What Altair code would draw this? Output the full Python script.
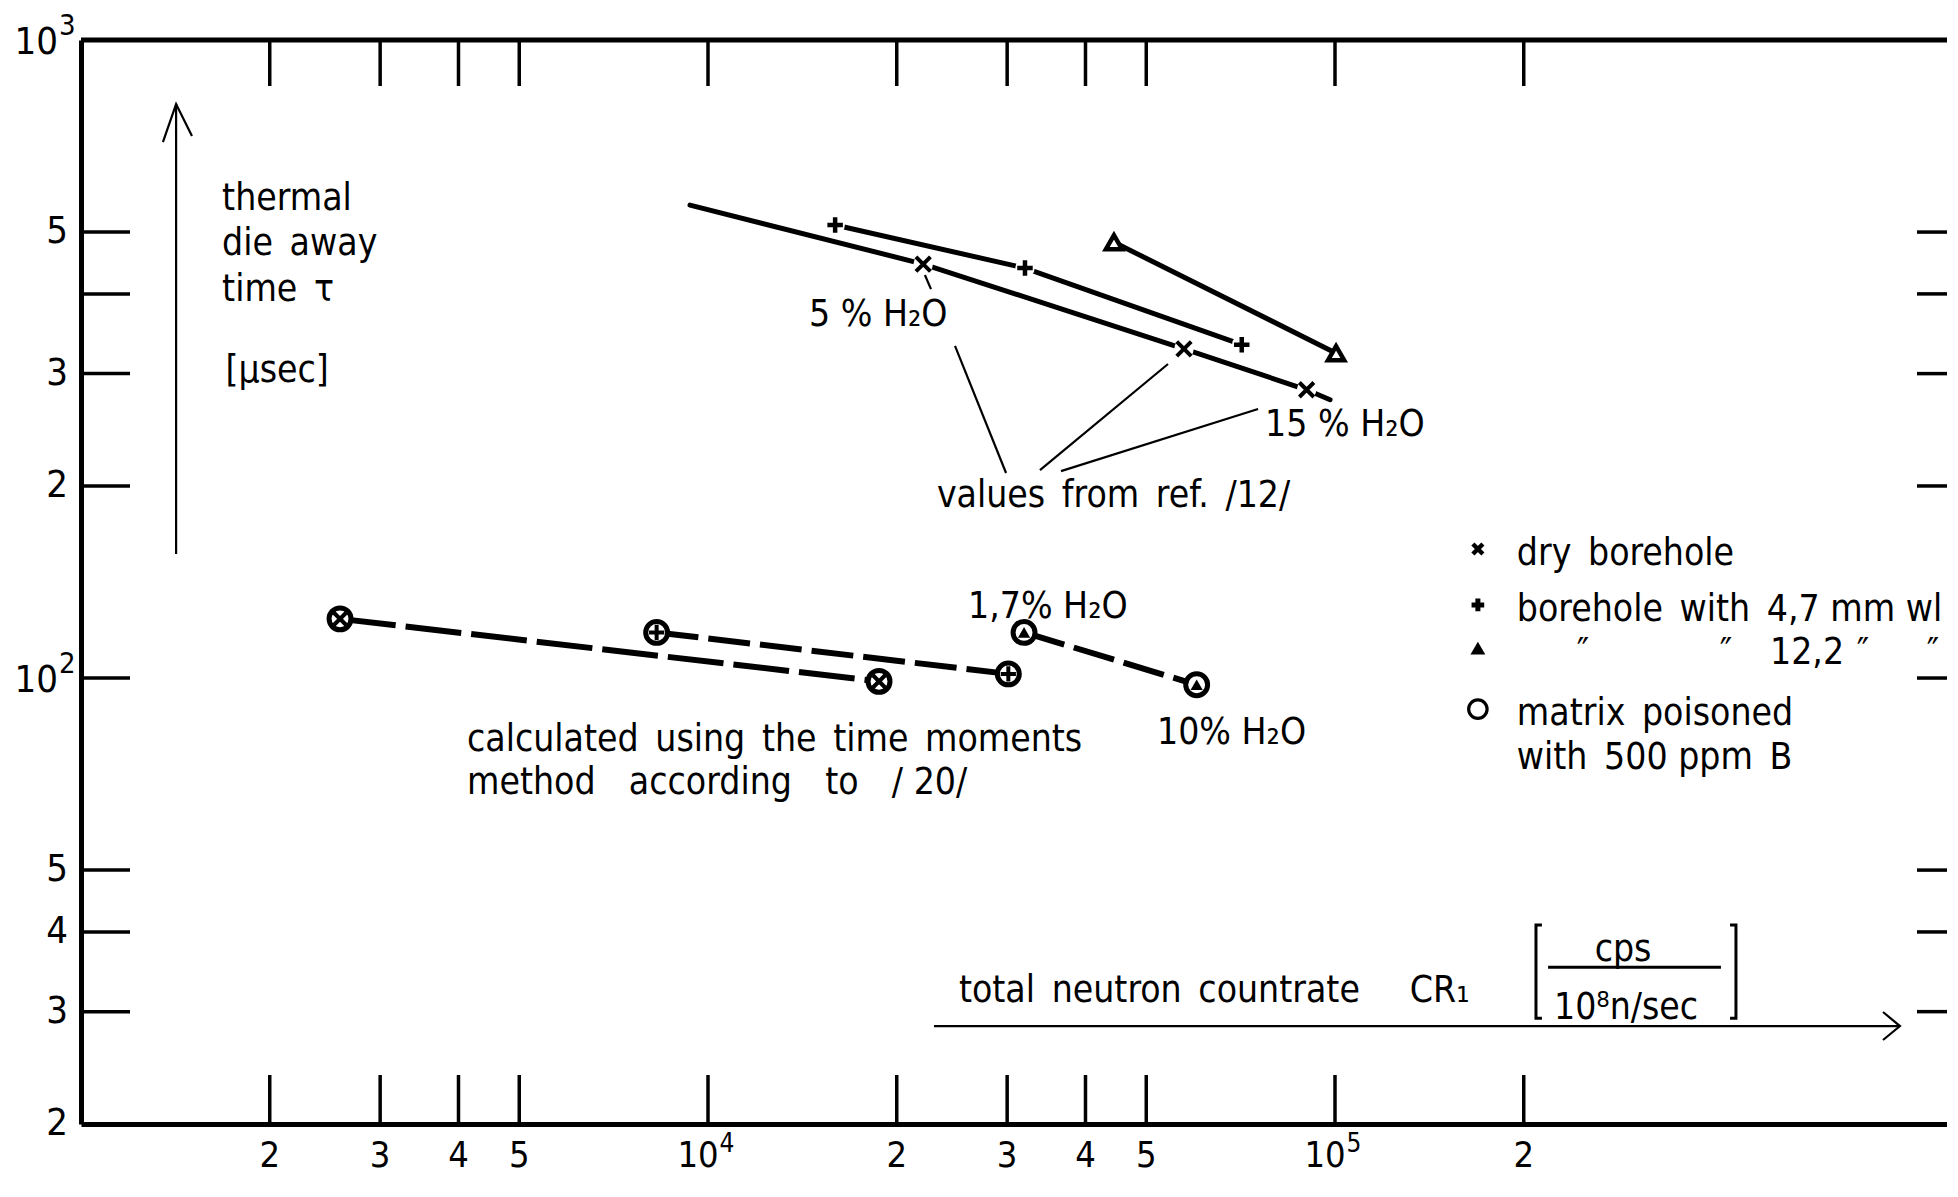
import altair as alt
import pandas as pd

FONT = "DejaVu Sans Condensed"
W, H = 1866, 1084
XMIN, XMAX = 1e3, 10 ** (3 + W / 627)
YMIN, YMAX = 20, 1000
EN = "\u2002"
EM = "\u2003"

# ---------------- axis ticks / labels ----------------
X_TICKS = [2e3, 3e3, 4e3, 5e3, 1e4, 2e4, 3e4, 4e4, 5e4, 1e5, 2e5]
X_LABELS = ["2", "3", "4", "5", "", "2", "3", "4", "5", "", "2"]
X_DECADES = [1e4, 1e5]
X_DEC_EXP = ["4", "5"]
Y_TICKS = [20, 30, 40, 50, 200, 300, 500]
Y_LABELS = ["2", "3", "4", "5", "2", "3", "5"]
Y_DECADES = [100, 1000]
Y_DEC_EXP = ["2", "3"]
Y_INNER = [30, 40, 50, 100, 200, 300, 400, 500]

# ---------------- data series (count rate, die-away time) ----------------
dry_x = [9360, 22040, 57430, 90100, 98200]
dry_y = [551, 445.5, 328, 283, 273]
dry_mark = [0, 1, 1, 1, 0]
wl47_x = [15950, 32030, 71000]
wl47_y = [513, 439, 333]
wl122_x = [44410, 100400]
wl122_y = [482, 323]
pdry_x = [2589, 18740]
pdry_y = [123.8, 98.8]
p47_x = [8281, 30130]
p47_y = [117.9, 101.5]
p122_x = [31920, 60170]
p122_y = [117.9, 97.6]

# ---------------- annotations ----------------
ann_text = ["5 % H₂O", "15 % H₂O", f"values{EN}from{EN}ref.{EN}/12/", "1,7% H₂O", "10% H₂O",
            f"calculated{EN}using{EN}the{EN}time{EN}moments", f"method{EM}according{EM}to{EM}/ 20/",
            "thermal", f"die{EN}away", f"time{EN}τ", "[μsec]",
            f"total{EN}neutron{EN}countrate{EM}{EN}CR₁"]
ann_x = [14490, 77340, 23180, 25980, 52010, 4127, 4127, 1679, 1679, 1679, 1700, 25130]
ann_y = [377.5, 253.7, 196.4, 131.5, 83.5, 81.4, 69.7, 573.6, 487.6, 413, 308.4, 32.9]

frac_text = ["cps", "10⁸n/sec"]
frac_x = [288000, 291200]
frac_y = [38.1, 30.9]

# leader lines and arrows: (path id -> xs, ys)
thin_paths = {
    "L1": ([24770, 29880], [331.5, 209.6]),
    "L2": ([54160, 33840], [310.6, 211.8]),
    "L3": ([75390, 36560], [264, 211]),
    "L4": ([22180, 22680], [428.2, 407]),
    "ay": ([1418, 1418], [156.4, 793.6]),
    "ayh": ([1351, 1418, 1503], [692, 793.6, 707]),
    "ax": ([22930, 796300], [28.48, 28.48]),
    "axh": ([748200, 796300, 748200], [29.96, 28.48, 27.08]),
}
thick_paths = {
    "bl": ([213800, 209200, 209200, 213800], [41.0, 41.0, 29.3, 29.3]),
    "br": ([426600, 436000, 436000, 426600], [41.0, 41.0, 29.3, 29.3]),
    "fb": ([218700, 412600], [35.2, 35.2]),
}

# legend
leg_marker_x = 169000
leg_text_x = 195000
leg_y = [159.3, 130.2, 111.4, 89.4, 76.3]
leg_text = [f"dry{EN}borehole", f"borehole{EN}with{EN}4,7 mm wl", "",
            f"matrix{EN}poisoned", f"with{EN}500 ppm{EN}B"]
ditto_text = ["″", "″", "12,2", "″", "″"]
ditto_x = [248600, 420300, 566000, 695000, 898700]

XPATH = "M-1,-1L1,1M-1,1L1,-1"
PPATH = "M-1,0L1,0M0,-1L0,1"

XS = alt.Scale(type="log", domain=[XMIN, XMAX], nice=False)
YS = alt.Scale(type="log", domain=[YMIN, YMAX], nice=False)

x_axis = alt.Axis(labels=False, ticks=False, domain=True, domainWidth=5, domainColor="black",
                  grid=False, title=None)
y_axis = alt.Axis(labels=False, ticks=False, domain=True, domainWidth=5, domainColor="black",
                  grid=False, title=None)


def X(f="x"):
    return alt.X(f"{f}:Q", scale=XS, axis=x_axis)


def Y(f="y"):
    return alt.Y(f"{f}:Q", scale=YS, axis=y_axis)


def series_df(items):
    rows = []
    for name, xs, ys in items:
        for i, (a, b) in enumerate(zip(xs, ys)):
            rows.append({"series": name, "i": i, "x": a, "y": b})
    return pd.DataFrame(rows)


solid = series_df([("dry", dry_x, dry_y), ("wl47", wl47_x, wl47_y), ("wl122", wl122_x, wl122_y)])
dashA = series_df([("pdry", pdry_x, pdry_y)])
dashB = series_df([("p47", p47_x, p47_y), ("p122", p122_x, p122_y)])

dry_pts = pd.DataFrame({"x": [a for a, m in zip(dry_x, dry_mark) if m],
                        "y": [b for b, m in zip(dry_y, dry_mark) if m]})
w47_pts = pd.DataFrame({"x": wl47_x, "y": wl47_y})
w122_pts = pd.DataFrame({"x": wl122_x, "y": wl122_y})
pdry_pts = pd.DataFrame({"x": pdry_x, "y": pdry_y})
p47_pts = pd.DataFrame({"x": p47_x, "y": p47_y})
p122_pts = pd.DataFrame({"x": p122_x, "y": p122_y})
circ_pts = pd.concat([pdry_pts, p47_pts, p122_pts])
halo_pts = pd.concat([dry_pts, w47_pts])

layers = []

layers.append(
    alt.Chart(solid).mark_line(color="black", strokeWidth=5, strokeCap="round").encode(
        x=X(), y=Y(), detail="series:N", order="i:Q")
)
# top frame
layers.append(alt.Chart(pd.DataFrame({"v": [YMAX]})).mark_rule(color="black", strokeWidth=5).encode(
    y=Y("v"), x=alt.value(0), x2=alt.value(W)))
# inner ticks
ydf = pd.DataFrame({"v": Y_INNER})
xdf = pd.DataFrame({"v": X_TICKS})
layers.append(alt.Chart(ydf).mark_rule(color="black", strokeWidth=3.5).encode(
    y=Y("v"), x=alt.value(0), x2=alt.value(49)))
layers.append(alt.Chart(ydf).mark_rule(color="black", strokeWidth=3.5).encode(
    y=Y("v"), x=alt.value(W - 30), x2=alt.value(W)))
layers.append(alt.Chart(xdf).mark_rule(color="black", strokeWidth=3.5).encode(
    x=X("v"), y=alt.value(0), y2=alt.value(46)))
layers.append(alt.Chart(xdf).mark_rule(color="black", strokeWidth=3.5).encode(
    x=X("v"), y=alt.value(H - 49), y2=alt.value(H)))

# tick labels
LAB = dict(font=FONT, color="black", baseline="middle")
xl = pd.DataFrame({"x": X_TICKS, "t": X_LABELS, "y": [YMIN] * len(X_TICKS)})
layers.append(alt.Chart(xl).mark_text(align="center", fontSize=36, dy=32, **LAB).encode(
    x=X(), y=Y(), text="t:N"))
xd = pd.DataFrame({"x": X_DECADES, "t": ["10"] * 2, "e": X_DEC_EXP, "y": [YMIN] * 2})
layers.append(alt.Chart(xd).mark_text(align="center", fontSize=36, dy=32, dx=-10, **LAB).encode(
    x=X(), y=Y(), text="t:N"))
layers.append(alt.Chart(xd).mark_text(align="center", fontSize=26, dy=20, dx=19, **LAB).encode(
    x=X(), y=Y(), text="e:N"))
yl = pd.DataFrame({"y": Y_TICKS, "t": Y_LABELS, "x": [XMIN] * len(Y_TICKS)})
layers.append(alt.Chart(yl).mark_text(align="right", fontSize=38, dx=-13, **LAB).encode(
    x=X(), y=Y(), text="t:N"))
yd = pd.DataFrame({"y": Y_DECADES, "t": ["10"] * 2, "e": Y_DEC_EXP, "x": [XMIN] * 2})
layers.append(alt.Chart(yd).mark_text(align="right", fontSize=38, dx=-23, dy=3, **LAB).encode(
    x=X(), y=Y(), text="t:N"))
layers.append(alt.Chart(yd).mark_text(align="left", fontSize=29, dx=-22, dy=-14, **LAB).encode(
    x=X(), y=Y(), text="e:N"))

# dashed lines
layers.append(alt.Chart(dashA).mark_line(color="black", strokeWidth=6, strokeDash=[56, 10]).encode(
    x=X(), y=Y(), detail="series:N", order="i:Q"))
layers.append(alt.Chart(dashB).mark_line(color="black", strokeWidth=6, strokeDash=[42, 10]).encode(
    x=X(), y=Y(), detail="series:N", order="i:Q"))

# white halos under markers
layers.append(alt.Chart(halo_pts).mark_point(filled=True, color="white", size=380, opacity=1).encode(x=X(), y=Y()))
# x markers
layers.append(alt.Chart(dry_pts).mark_point(shape=XPATH, filled=False, color="black", strokeWidth=4,
                                            size=210, opacity=1).encode(x=X(), y=Y()))
# + markers
layers.append(alt.Chart(w47_pts).mark_point(shape=PPATH, filled=False, color="black", strokeWidth=4.5,
                                            size=240, opacity=1).encode(x=X(), y=Y()))
# open triangles
layers.append(alt.Chart(w122_pts).mark_point(shape="triangle-up", filled=True, fill="white", stroke="black",
                                             strokeWidth=4.5, size=260, opacity=1).encode(x=X(), y=Y()))
# poisoned matrix circles
layers.append(alt.Chart(circ_pts).mark_point(shape="circle", filled=True, fill="white", stroke="black",
                                             strokeWidth=5, size=480, opacity=1).encode(x=X(), y=Y()))
layers.append(alt.Chart(pdry_pts).mark_point(shape=XPATH, filled=False, color="black", strokeWidth=4,
                                             size=150, opacity=1).encode(x=X(), y=Y()))
layers.append(alt.Chart(p47_pts).mark_point(shape=PPATH, filled=False, color="black", strokeWidth=4,
                                            size=230, opacity=1).encode(x=X(), y=Y()))
layers.append(alt.Chart(p122_pts).mark_point(shape="triangle-up", filled=True, color="black",
                                             size=150, opacity=1).encode(x=X(), y=Y()))

# thin paths (leaders, arrows)
thin_df = series_df([(k, v[0], v[1]) for k, v in thin_paths.items()])
layers.append(alt.Chart(thin_df).mark_line(color="black", strokeWidth=2.2).encode(
    x=X(), y=Y(), detail="series:N", order="i:Q"))
thick_df = series_df([(k, v[0], v[1]) for k, v in thick_paths.items()])
layers.append(alt.Chart(thick_df).mark_line(color="black", strokeWidth=3).encode(
    x=X(), y=Y(), detail="series:N", order="i:Q"))

TXT = dict(baseline="middle", font=FONT, fontSize=37, color="black", dy=5)

# annotation texts
ann_df = pd.DataFrame({"t": ann_text, "x": ann_x, "y": ann_y})
layers.append(alt.Chart(ann_df).mark_text(align="left", **TXT).encode(x=X(), y=Y(), text="t:N"))
frac_df = pd.DataFrame({"t": frac_text, "x": frac_x, "y": frac_y})
layers.append(alt.Chart(frac_df).mark_text(align="center", **TXT).encode(x=X(), y=Y(), text="t:N"))

# legend
leg_df = pd.DataFrame({"t": leg_text, "x": [leg_text_x] * 5, "y": leg_y})
layers.append(alt.Chart(leg_df).mark_text(align="left", **TXT).encode(x=X(), y=Y(), text="t:N"))
ditto_df = pd.DataFrame({"t": ditto_text, "x": ditto_x, "y": [leg_y[2]] * 5})
layers.append(alt.Chart(ditto_df).mark_text(align="center", **TXT).encode(x=X(), y=Y(), text="t:N"))
lm = lambda i: pd.DataFrame({"x": [leg_marker_x], "y": [leg_y[i]]})
layers.append(alt.Chart(lm(0)).mark_point(shape=XPATH, filled=False, color="black", strokeWidth=4.5,
                                          size=100, opacity=1).encode(x=X(), y=Y()))
layers.append(alt.Chart(lm(1)).mark_point(shape=PPATH, filled=False, color="black", strokeWidth=5,
                                          size=160, opacity=1).encode(x=X(), y=Y()))
layers.append(alt.Chart(lm(2)).mark_point(shape="triangle-up", filled=True, color="black",
                                          size=220, opacity=1).encode(x=X(), y=Y()))
layers.append(alt.Chart(lm(3)).mark_point(shape="circle", filled=False, color="black", strokeWidth=3.2,
                                          size=340, opacity=1).encode(x=X(), y=Y()))

chart = alt.layer(*layers).properties(
    width=W, height=H,
    padding={"left": 73, "top": 32, "right": 0, "bottom": 56},
    autosize=alt.AutoSizeParams(type="none"),
    background="white",
).configure_view(stroke=None)

chart.save("out.html", embed_options={"renderer": "svg", "actions": False})
